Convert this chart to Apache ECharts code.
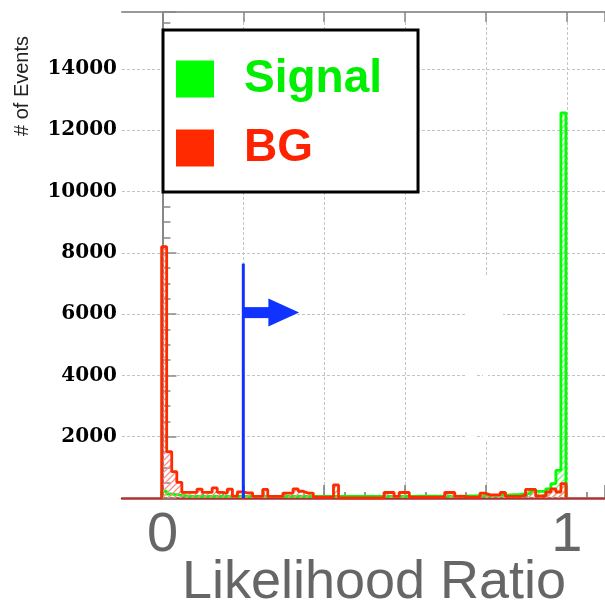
<!DOCTYPE html>
<html>
<head>
<meta charset="utf-8">
<script src="https://cdn.jsdelivr.net/npm/echarts@6/dist/echarts.min.js"></script>
<style>html,body{margin:0;padding:0;background:#fff;}#c{width:605px;height:601px;}</style>
</head>
<body>
<div id="c"></div>
<script>
// ---- data ----
const binStart = -0.002;
const binWidth = 0.0125;
const bgCounts = [
  8200,1510,860,510,185,185,185,290,185,185,
  330,185,160,290,60,200,170,170,50,50,
  280,50,50,50,160,160,300,220,160,160,
  30,30,30,30,430,0,0,0,0,0,
  0,0,0,0,180,180,50,180,180,30,
  30,30,30,30,30,30,180,180,50,50,
  30,30,30,160,100,100,100,180,50,50,
  50,85,280,280,65,65,195,300,195,470
];
const signalCounts = [
  220,130,110,90,70,50,50,50,50,50,
  50,50,50,50,50,50,50,50,50,50,
  50,50,50,50,50,50,50,50,50,50,
  50,50,50,50,50,50,50,50,50,50,
  55,55,55,55,55,55,55,55,55,55,
  60,60,60,60,60,60,60,60,60,60,
  70,70,75,75,80,80,85,90,100,110,
  120,140,140,217,217,217,300,470,900,12570
];
const seriesNames = ['Signal', 'BG'];
const xTickLabels = ['0', '1'];
const cutValue = [0.2];
const cutTop = [7650];
const arrowY = [6050];
const arrowShaftEnd = [0.262];
const arrowTip = [0.338];
const xMin = -0.1, xMax = 1.0945, yMax = 15860;

function stepData(counts) {
  const pts = [[binStart, 0]];
  for (let k = 0; k < counts.length; k++) pts.push([binStart + k * binWidth, counts[k]]);
  pts.push([binStart + counts.length * binWidth, 0]);
  return pts;
}
function hatch(color) {
  const c = document.createElement('canvas');
  c.width = 6; c.height = 6;
  const g = c.getContext('2d');
  g.strokeStyle = color; g.lineWidth = 1.3;
  g.beginPath();
  g.moveTo(0, 6); g.lineTo(6, 0);
  g.moveTo(-1, 1); g.lineTo(1, -1);
  g.moveTo(5, 7); g.lineTo(7, 5);
  g.stroke();
  return c;
}

const GREEN = '#00ff00', RED = '#ff2a00', BLUE = '#1133ff';
const gridLine = { color: '#c4c4c4', type: [3, 2], width: 1 };

const chart = echarts.init(document.getElementById('c'), null, { renderer: 'canvas' });
chart.setOption({
  animation: false,
  backgroundColor: '#fff',
  grid: [
    { left: 122, right: 0, top: 12, bottom: 103, outerBoundsMode: 'none', containLabel: false },
    { left: 162.5, right: 0, top: 12, bottom: 103, outerBoundsMode: 'none', containLabel: false }
  ],
  xAxis: [
    { gridIndex: 0, type: 'value', min: xMin, max: xMax, position: 'bottom',
      axisLine: { show: true, lineStyle: { color: '#a33', width: 2.5 } },
      axisTick: { show: false }, axisLabel: { show: false }, splitLine: { show: false },
      name: 'Likelihood Ratio', nameLocation: 'middle', nameGap: 58,
      nameTextStyle: { fontFamily: 'Liberation Sans', fontSize: 54, color: '#666', padding: [0, 0, 0, 21] } },
    { gridIndex: 0, type: 'value', min: xMin, max: xMax, position: 'top',
      axisLine: { show: true, lineStyle: { color: '#999', width: 2 } },
      axisTick: { show: false }, axisLabel: { show: false }, splitLine: { show: false } },
    { gridIndex: 1, type: 'value', min: 0, max: xMax, interval: 0.2, position: 'bottom',
      axisLine: { show: false },
      axisTick: { show: true, inside: true, length: 13, lineStyle: { color: '#777', width: 1.5 } },
      minorTick: { show: true, splitNumber: 4, length: 6, lineStyle: { color: '#777', width: 1.5 } },
      splitLine: { show: true, showMaxLine: false, lineStyle: gridLine },
      axisLabel: { show: true, margin: 10, showMaxLabel: false, fontFamily: 'Liberation Sans', fontSize: 56, color: '#666',
        formatter: v => (Math.abs(v) < 1e-9 ? xTickLabels[0] : (Math.abs(v - 1) < 1e-9 ? xTickLabels[1] : '')) } },
    { gridIndex: 1, type: 'value', min: 0, max: xMax, interval: 0.2, position: 'top',
      axisLine: { show: false },
      axisTick: { show: true, inside: true, length: 10, lineStyle: { color: '#888', width: 1.5 } },
      axisLabel: { show: false }, splitLine: { show: false } }
  ],
  yAxis: [
    { gridIndex: 0, type: 'value', min: 0, max: yMax, interval: 2000,
      axisLine: { show: true, lineStyle: { color: '#888', width: 2 } },
      axisTick: { show: true, inside: true, length: 14, lineStyle: { color: '#888', width: 1.5 } },
      minorTick: { show: true, splitNumber: 4, length: 8, lineStyle: { color: '#888', width: 1.5 } },
      splitLine: { show: true, showMinLine: false, showMaxLine: false, lineStyle: gridLine },
      axisLabel: { margin: 5, showMinLabel: false, showMaxLabel: false, fontFamily: 'DejaVu Serif', fontWeight: 'bold', fontSize: 20, color: '#000',
        formatter: v => String(v) } },
    { gridIndex: 1, type: 'value', min: 0, max: yMax, show: false }
  ],
  legend: {
    orient: 'vertical', left: 163, top: 30,
    padding: [26, 36, 21, 13],
    itemWidth: 38, itemHeight: 37, itemGap: 23, icon: 'rect',
    borderColor: '#000', borderWidth: 3, backgroundColor: '#fff',
    selectedMode: false,
    textStyle: { fontFamily: 'Liberation Sans', fontWeight: 'bold', fontSize: 46, lineHeight: 37, padding: [0, 0, 0, 25] },
    data: [
      { name: seriesNames[0], itemStyle: { color: GREEN }, textStyle: { color: '#00ee00' } },
      { name: seriesNames[1], itemStyle: { color: RED }, textStyle: { color: '#ff2200' } }
    ]
  },
  graphic: [
    { type: 'rect', z: 1, shape: { x: 466, y: 275, width: 37, height: 70 }, style: { fill: '#fff' } },
    { type: 'rect', z: 1, shape: { x: 466, y: 345, width: 10, height: 100 }, style: { fill: '#fff' } },
    { type: 'rect', z: 1, shape: { x: 483, y: 345, width: 5, height: 95 }, style: { fill: '#fff' } },
    { type: 'text', x: 22, y: 86, rotation: Math.PI / 2,
      style: { text: '# of Events', font: '20px "Liberation Sans"', fill: '#222', align: 'center', verticalAlign: 'middle' } }
  ],
  series: [
    { name: seriesNames[0], type: 'line', xAxisIndex: 0, yAxisIndex: 0, step: 'end',
      data: stepData(signalCounts), showSymbol: false, symbol: 'none', z: 3,
      itemStyle: { color: GREEN },
      lineStyle: { color: GREEN, width: 2.8 },
      areaStyle: { color: { image: hatch('#66ff66'), repeat: 'repeat' }, opacity: 1 } },
    { name: seriesNames[1], type: 'line', xAxisIndex: 0, yAxisIndex: 0, step: 'end',
      data: stepData(bgCounts), showSymbol: false, symbol: 'none', z: 4,
      itemStyle: { color: RED },
      lineStyle: { color: RED, width: 2.8 },
      areaStyle: { color: { image: hatch('#ff8c8c'), repeat: 'repeat' }, opacity: 1 } },
    { name: 'cut', type: 'custom', xAxisIndex: 0, yAxisIndex: 0, z: 5,
      data: cutValue.map((v, i) => [v, cutTop[i], arrowY[i], arrowShaftEnd[i], arrowTip[i]]),
      encode: { x: 0, y: 1 },
      renderItem: function (params, api) {
        const x = api.value(0), top = api.value(1), ay = api.value(2), se = api.value(3), tip = api.value(4);
        const p0 = api.coord([x, 0]);
        const p1 = api.coord([x, top]);
        const a0 = api.coord([x, ay]);
        const a1 = api.coord([se, ay]);
        const a2 = api.coord([tip, ay]);
        return { type: 'group', children: [
          { type: 'line', shape: { x1: p0[0], y1: p0[1], x2: p1[0], y2: p1[1] }, style: { stroke: BLUE, lineWidth: 3 } },
          { type: 'rect', shape: { x: a0[0], y: a0[1] - 5.5, width: a1[0] - a0[0] + 1, height: 11 }, style: { fill: BLUE } },
          { type: 'polygon', shape: { points: [[a1[0], a1[1] - 14], [a2[0], a2[1]], [a1[0], a1[1] + 14]] }, style: { fill: BLUE } }
        ] };
      } }
  ]
});
</script>
</body>
</html>
